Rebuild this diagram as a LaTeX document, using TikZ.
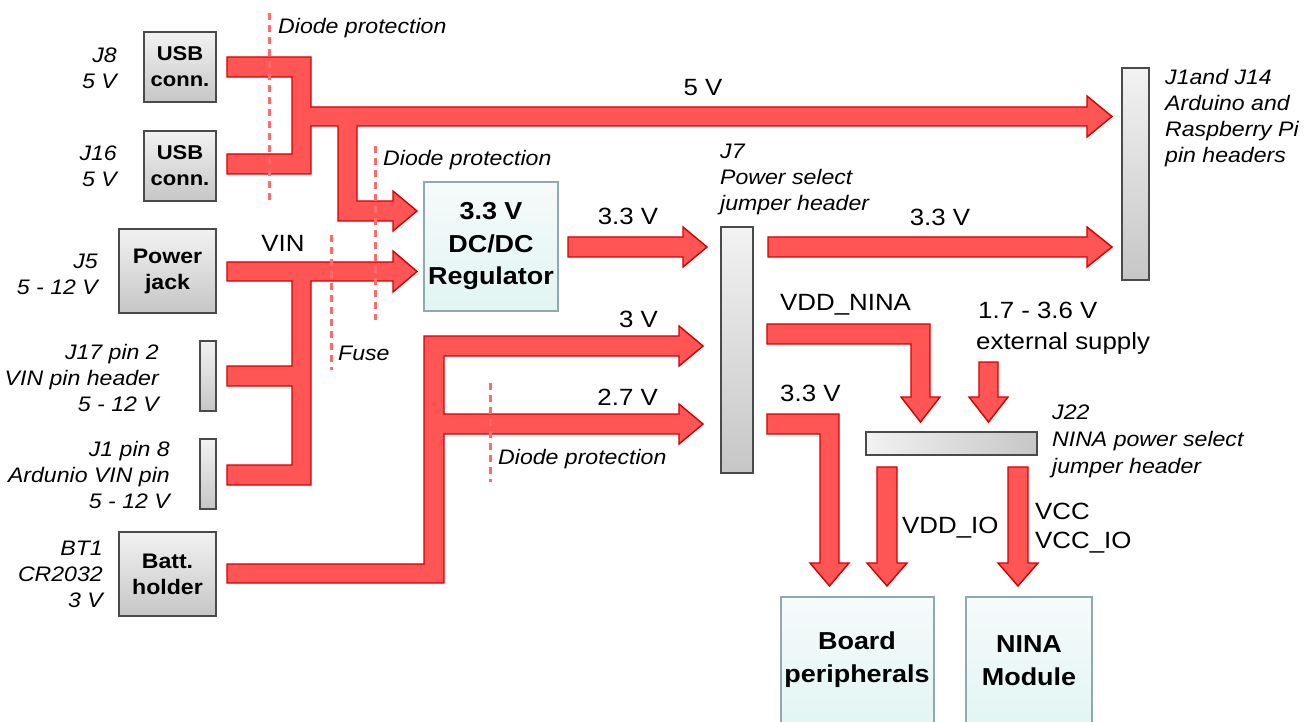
\documentclass[tikz,border=0pt]{standalone}
\usepackage{fontspec}
\setmainfont{Liberation Sans}[FakeStretch=1.1]
\usetikzlibrary{calc}
\definecolor{arrfill}{HTML}{FF5555}
\definecolor{arredge}{HTML}{D40000}
\definecolor{dashcol}{HTML}{FF6B6B}
\definecolor{graytop}{HTML}{F2F2F2}
\definecolor{graybot}{HTML}{C6C6C6}
\definecolor{grayedge}{HTML}{4A4A4A}
\definecolor{cyantop}{HTML}{F6FAFA}
\definecolor{cyanbot}{HTML}{E0F5F3}
\definecolor{cyanedge}{HTML}{90A8B0}
\newcommand\lblfont{\fontsize{21}{26}\selectfont\itshape}
\newcommand\valfont{\fontsize{23.5}{33}\selectfont}
\newcommand\bxfont{\fontsize{20}{26}\selectfont\bfseries}
\newcommand\bxbigfont{\fontsize{24.5}{33}\selectfont\bfseries}
\tikzset{
  bus/.style={fill=arrfill, draw=arredge, line width=1.4pt, line join=miter},
  guard/.style={draw=dashcol, line width=3pt, dash pattern=on 7pt off 5pt},
  graybox/.style={draw=grayedge, line width=1.2pt, top color=graytop, bottom color=graybot,
    inner sep=0pt, outer sep=0pt, align=center, font=\bxfont},
  cyanbox/.style={draw=cyanedge, line width=1.2pt, top color=cyantop, bottom color=cyanbot,
    inner sep=0pt, outer sep=0pt, align=center},
  lblr/.style={anchor=east, align=right, inner sep=0pt, font=\lblfont},
  lbll/.style={anchor=west, align=left, inner sep=0pt, font=\lblfont},
  val/.style={inner sep=0pt, font=\valfont},
  bigtxt/.style={inner sep=0pt, align=center, font=\bxbigfont},
}
\begin{document}
\begin{tikzpicture}[x=1pt,y=-1pt]
\useasboundingbox (0,0) rectangle (1307,722);
\clip (0,0) rectangle (1307,722);
\fill[white] (0,0) rectangle (1307,722);

% ---------- block arrows ----------
% USB 5 V bus
\draw[bus] (227,57) -- (311,57) -- (311,107) -- (1087,107) -- (1087,96) -- (1112,116.5)
  -- (1087,137) -- (1087,126) -- (357,126) -- (357,201) -- (393,201) -- (393,191)
  -- (417,211) -- (393,231) -- (393,221) -- (338,221) -- (338,126) -- (311,126)
  -- (311,174) -- (227,174) -- (227,154) -- (292,154) -- (292,77) -- (227,77) -- cycle;
% VIN bus
\draw[bus] (227,262) -- (393,262) -- (393,251) -- (417,271.5) -- (393,292) -- (393,281)
  -- (311,281) -- (311,485) -- (227,485) -- (227,465) -- (292,465) -- (292,386)
  -- (227,386) -- (227,366) -- (292,366) -- (292,281) -- (227,281) -- cycle;
% battery bus
\draw[bus] (227,564) -- (424,564) -- (424,336) -- (679,336) -- (679,326) -- (703,346)
  -- (679,366) -- (679,356) -- (444,356) -- (444,414) -- (679,414) -- (679,404)
  -- (703,424) -- (679,444) -- (679,434) -- (444,434) -- (444,583) -- (227,583) -- cycle;
% regulator -> J7
\draw[bus] (568,237) -- (683,237) -- (683,227) -- (707,247) -- (683,267) -- (683,257)
  -- (568,257) -- cycle;
% J7 -> J1/J14 3.3 V
\draw[bus] (768,237) -- (1087,237) -- (1087,227) -- (1112,247) -- (1087,267) -- (1087,257)
  -- (768,257) -- cycle;
% VDD_NINA
\draw[bus] (767,324) -- (930,324) -- (930,397) -- (940,397) -- (920.5,422) -- (901,397)
  -- (911,397) -- (911,344) -- (767,344) -- cycle;
% external supply
\draw[bus] (979,362) -- (998,362) -- (998,397) -- (1008,397) -- (988.5,422) -- (969,397)
  -- (979,397) -- cycle;
% 3.3 V to board
\draw[bus] (767,414) -- (839,414) -- (839,563) -- (849,563) -- (829.5,586) -- (810,563)
  -- (820,563) -- (820,434) -- (767,434) -- cycle;
% VDD_IO
\draw[bus] (877,467) -- (897,467) -- (897,563) -- (907,563) -- (887,586) -- (867,563)
  -- (877,563) -- cycle;
% VCC
\draw[bus] (1008,467) -- (1028,467) -- (1028,563) -- (1038,563) -- (1018,586) -- (998,563)
  -- (1008,563) -- cycle;

% ---------- protection lines ----------
\draw[guard] (269,13) -- (269,202);
\draw[guard] (375,146) -- (375,320);
\draw[guard] (331,235) -- (331,370);
\draw[guard] (490,383) -- (490,482);

% ---------- boxes ----------
\node[graybox, minimum width=72pt, minimum height=70pt] (usb1) at (180,67) {USB\\conn.};
\node[graybox, minimum width=72pt, minimum height=70pt] (usb2) at (180,166) {USB\\conn.};
\node[graybox, minimum width=97pt, minimum height=84pt, font=\fontsize{21}{26}\selectfont\bfseries] (jack) at (167.5,271) {Power\\jack};
\node[graybox, minimum width=16pt, minimum height=70pt] (j17) at (208,376) {};
\node[graybox, minimum width=16pt, minimum height=70pt] (j1p) at (208,474) {};
\node[graybox, minimum width=97pt, minimum height=84pt, font=\fontsize{21}{26}\selectfont\bfseries] (batt) at (167.5,574) {Batt.\\holder};
\node[graybox, minimum width=32pt, minimum height=246pt] (j7) at (737,350) {};
\node[graybox, minimum width=27pt, minimum height=212pt] (j114) at (1135.5,174) {};
\node[graybox, left color=graytop, right color=graybot, minimum width=171pt, minimum height=23pt] (j22) at (951.5,443.5) {};
\node[cyanbox, minimum width=134pt, minimum height=129pt, font=\fontsize{24.5}{32.5}\selectfont\bfseries] (reg) at (491,246.5) {3.3 V\\DC/DC\\Regulator};
\node[cyanbox, minimum width=153pt, minimum height=143pt] (board) at (857.5,668.5) {};
\node[cyanbox, minimum width=126pt, minimum height=143pt] (nina) at (1029,668.5) {};
\node[bigtxt] (boardtxt) at (857,660) {Board\\peripherals};
\node[bigtxt] (ninatxt) at (1029,661) {NINA\\Module};

% ---------- italic labels ----------
\node[lblr] (lj8) at (117,68) {J8\\5 V};
\node[lblr] (lj16) at (117,166) {J16\\5 V};
\node[lblr] (lj5) at (98,274) {J5\\5 - 12 V};
\node[lblr] (lj17) at (159,378) {J17 pin 2\\VIN pin header\\5 - 12 V};
\node[lblr] (lj1) at (170,475) {J1 pin 8\\Ardunio VIN pin\\5 - 12 V};
\node[lblr] (lbt) at (103,574) {BT1\\CR2032\\3 V};
\node[lbll] (ld1) at (278,28) {Diode protection};
\node[lbll] (ld2) at (383,160) {Diode protection};
\node[lbll] (lfuse) at (338,353) {Fuse};
\node[lbll] (ld3) at (498,459) {Diode protection};
\node[lbll] (lj7) at (720,179) {J7\\Power select\\jumper header};
\node[lbll] (lj114) at (1165,118) {J1and J14\\Arduino and\\Raspberry Pi\\pin headers};
\node[lbll, font=\fontsize{21}{27}\selectfont\itshape] (lj22) at (1052,441) {J22\\NINA power select\\jumper header};

% ---------- value labels ----------
\node[val] (v5) at (703,88) {5 V};
\node[val] (v33a) at (940,217) {3.3 V};
\node[val] (vvin) at (283,243) {VIN};
\node[val] (v33b) at (628,216) {3.3 V};
\node[val, anchor=east] (v3) at (658,319) {3 V};
\node[val, anchor=east] (v27) at (658,397) {2.7 V};
\node[val, anchor=west] (vnina) at (780,305) {VDD\_NINA};
\node[val, anchor=west] (v33c) at (780,393) {3.3 V};
\node[val, anchor=west] (vext1) at (978,310) {1.7 - 3.6 V};
\node[val, anchor=west] (vext2) at (976,343) {external supply};
\node[val, anchor=west] (vio) at (902,528) {VDD\_IO};
\node[val, anchor=west] (vcc1) at (1035,511) {VCC};
\node[val, anchor=west] (vcc2) at (1035,543) {VCC\_IO};
\end{tikzpicture}
\end{document}
